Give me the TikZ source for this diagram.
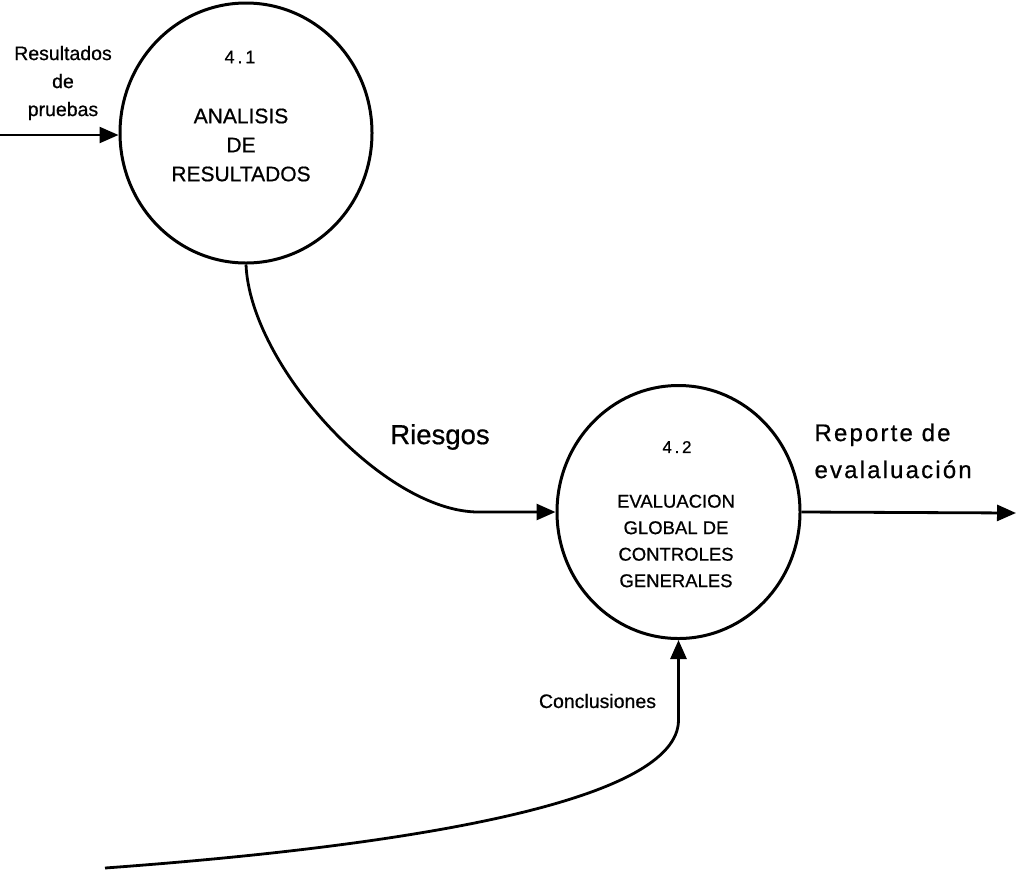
\documentclass[tikz,border=0pt]{standalone}
\usepackage{fontspec}
\setmainfont[FakeBold=0.7]{Liberation Sans}
\usetikzlibrary{arrows.meta,shapes.geometric}
\begin{document}
\begin{tikzpicture}[x=1pt,y=-1pt,
  process/.style={ellipse, draw, line width=3pt, inner sep=0pt},
  flow/.style={line width=2.8pt, -{Triangle[length=19pt,width=16pt]}},
  numtxt/.style={font=\fontsize{18}{20}\selectfont\addfontfeatures{LetterSpace=16}},
  bigtxt/.style={font=\fontsize{21}{29}\selectfont, align=center},
  smalltxt/.style={font=\fontsize{18.5}{26.5}\selectfont, align=center},
  lbl/.style={font=\fontsize{19.5}{28}\selectfont, align=center}]
\useasboundingbox (0,0) rectangle (1016,871);

% processes
\node[process, minimum width=252pt, minimum height=260pt] (c1) at (246,133) {};
\node[process, minimum width=243pt, minimum height=253pt] (c2) at (678.5,512) {};

% process texts
\node[numtxt] (n41) at (240,57) {4.1};
\node[bigtxt] (t41) at (241,145) {ANALISIS\\DE\\RESULTADOS};
\node[numtxt, font=\fontsize{17}{20}\selectfont\addfontfeatures{LetterSpace=16}] (n42) at (677,447) {4.2};
\node[smalltxt] (t42) at (676,541) {EVALUACION\\GLOBAL DE\\CONTROLES\\GENERALES};

% flow labels
\node[lbl] (lres) at (63,83) {Resultados\\de\\pruebas};
\node[font=\fontsize{27.5}{30}\selectfont] (lrie) at (440,437) {Riesgos};
\node[font=\fontsize{24}{37}\selectfont\addfontfeatures{LetterSpace=9}, align=left, anchor=west] (lrep) at (811,451) {Reporte de\\evalaluación};
\node[lbl] (lcon) at (597.5,701) {Conclusiones};

% free ends
\coordinate (src) at (0,135);
\coordinate (sink) at (1016,513);
\coordinate (cin) at (105,868);

% flows
\draw[flow, line width=2.4pt] (src) -- (src -| c1.west);
\draw[flow] (c1.south) .. controls +(4,100) and +(-95,0) .. ([xshift=-77pt]c2.west) -- (c2.west);
\draw[flow] (c2.east) -- (sink);
\draw[flow] (cin) .. controls +(315,-23) and +(0,80) .. ([yshift=-80pt]c2.south) -- (c2.south);
\end{tikzpicture}
\end{document}
